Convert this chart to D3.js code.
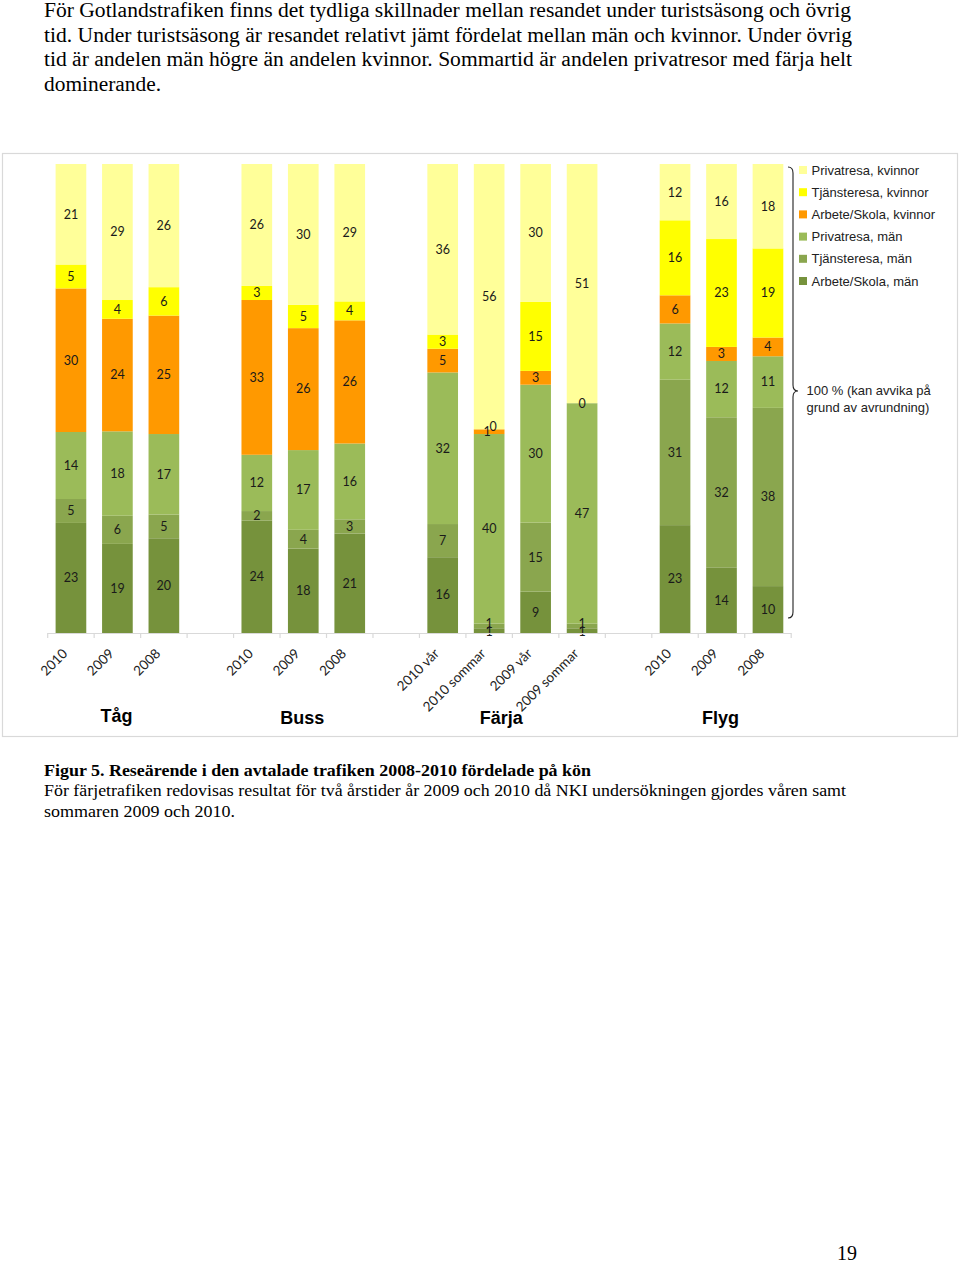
<!DOCTYPE html>
<html><head><meta charset="utf-8">
<script src="https://cdn.jsdelivr.net/npm/d3@7"></script>
<style>
html,body{margin:0;padding:0;background:#fff;}
svg{display:block;}
</style></head>
<body>
<script>
// ---- data ----
const groups = ["Tåg", "Buss", "Färja", "Flyg"];
const periods = [
  ["2010", "2009", "2008"],
  ["2010", "2009", "2008"],
  ["2010 vår", "2010 sommar", "2009 vår", "2009 sommar"],
  ["2010", "2009", "2008"]
];
const seriesNames = ["Arbete/Skola, män", "Tjänsteresa, män", "Privatresa, män",
  "Arbete/Skola, kvinnor", "Tjänsteresa, kvinnor", "Privatresa, kvinnor"];
const arbeteMan   = [23, 19, 20, 24, 18, 21, 16, 1, 9, 1, 23, 14, 10];
const tjanstMan   = [5, 6, 5, 2, 4, 3, 7, 1, 15, 1, 31, 32, 38];
const privatMan   = [14, 18, 17, 12, 17, 16, 32, 40, 30, 47, 12, 12, 11];
const arbeteKv    = [30, 24, 25, 33, 26, 26, 5, 1, 3, 0, 6, 3, 4];
const tjanstKv    = [5, 4, 6, 3, 5, 4, 3, 0, 15, 0, 16, 23, 19];
const privatKv    = [21, 29, 26, 26, 30, 29, 36, 56, 30, 51, 12, 16, 18];
const seriesColors = ["#76923C", "#8AA64E", "#9BBB59", "#FF9900", "#FFFF00", "#FFFF99"];

const introLines = [
  "För Gotlandstrafiken finns det tydliga skillnader mellan resandet under turistsäsong och övrig",
  "tid. Under turistsäsong är resandet relativt jämt fördelat mellan män och kvinnor. Under övrig",
  "tid är andelen män högre än andelen kvinnor. Sommartid är andelen privatresor med färja helt",
  "dominerande."
];
const captionTitle = "Figur 5. Reseärende i den avtalade trafiken 2008-2010 fördelade på kön";
const captionLines = [
  "För färjetrafiken redovisas resultat för två årstider år 2009 och 2010 då NKI undersökningen gjordes våren samt",
  "sommaren 2009 och 2010."
];
const braceNote = ["100 % (kan avvika på", "grund av avrundning)"];
const pageNumber = "19";

// ---- build ----
const W = 960, H = 1263;
const svg = d3.select("body").append("svg").attr("width", W).attr("height", H);

// paragraph text
const introW = [807, 808, 808, 117];
introLines.forEach((t, i) => {
  svg.append("text").attr("x", 44).attr("y", 17 + i * 24.6)
    .attr("font-family", "Liberation Serif, Times New Roman, serif").attr("font-size", 20)
    .attr("fill", "#000")
    .attr("textLength", introW[i]).attr("lengthAdjust", "spacingAndGlyphs").text(t);
});

// chart frame
svg.append("rect").attr("x", 2.5).attr("y", 153.5).attr("width", 955).attr("height", 583)
  .attr("fill", "#fff").attr("stroke", "#d9d9d9").attr("stroke-width", 1.2);

// build bar records
const bars = [];
const slots = [];
let k = 0;
groups.forEach((g, gi) => {
  periods[gi].forEach((p) => {
    const id = g + "|" + p;
    slots.push(id);
    bars.push({ id, group: g, period: p, idx: k });
    k++;
  });
  if (gi < groups.length - 1) slots.push("gap" + gi);
});
const seriesArrays = [arbeteMan, tjanstMan, privatMan, arbeteKv, tjanstKv, privatKv];
bars.forEach(b => {
  b.vals = seriesArrays.map(a => a[b.idx]);
  b.total = d3.sum(b.vals);
});

const x = d3.scaleBand().domain(slots).range([47.7, 791.2]).paddingInner(0.34).paddingOuter(0.17);
const y = d3.scaleLinear().domain([0, 1]).range([633, 164]);

// stacked (normalized)
const segs = [];
bars.forEach(b => {
  let acc = 0;
  b.vals.forEach((v, si) => {
    const y0 = acc / b.total, y1 = (acc + v) / b.total;
    segs.push({ b, si, v, y0, y1 });
    acc += v;
  });
});

const gBars = svg.append("g");
gBars.selectAll("rect").data(segs).join("rect")
  .attr("x", d => x(d.b.id))
  .attr("width", x.bandwidth())
  .attr("y", d => y(d.y1))
  .attr("height", d => y(d.y0) - y(d.y1))
  .attr("fill", d => seriesColors[d.si]);

// labels: tiny segments get a small nudge like the overlapping Excel labels
gBars.selectAll("text").data(segs).join("text")
  .attr("x", d => {
    const cx = x(d.b.id) + x.bandwidth() / 2;
    if (d.b.period.includes("sommar") && d.si === 4 && d.v === 0 && d.b.vals[3] > 0) return cx + 4;
    if (d.b.period.includes("sommar") && d.si === 3 && d.v > 0) return cx - 2;
    return cx;
  })
  .attr("y", d => {
    let yy = y((d.y0 + d.y1) / 2);
    if (d.b.period.includes("sommar") && d.si === 0) yy += 1;
    if (d.b.period.includes("sommar") && d.si === 1) yy -= 2;
    if (d.b.period.includes("sommar") && d.si === 4 && d.v === 0 && d.b.vals[3] > 0) yy -= 3;
    return yy;
  })
  .attr("dy", "0.35em")
  .attr("text-anchor", "middle")
  .attr("font-family", "Lato, Open Sans, sans-serif").attr("font-size", 12.5)
  .attr("fill", "#1a1a1a")
  .text(d => d.v)
  .filter(d => d.b.period === "2009 sommar" && d.si === 4).remove();

// axis line & ticks
const axisG = svg.append("g");
const step = x.step();
const x0 = x.range()[0];
axisG.append("line").attr("x1", x0).attr("x2", x.range()[1]).attr("y1", 633.5).attr("y2", 633.5)
  .attr("stroke", "#d9d9d9").attr("stroke-width", 1.2);
const tickPos = d3.range(slots.length + 1).map(i => x0 + i * step);
axisG.selectAll("line.tick").data(tickPos).join("line").attr("class", "tick")
  .attr("x1", d => d).attr("x2", d => d).attr("y1", 633).attr("y2", 638)
  .attr("stroke", "#d9d9d9").attr("stroke-width", 1.2);

// category labels
axisG.selectAll("text.cat").data(bars).join("text").attr("class", "cat")
  .attr("transform", d => `translate(${x(d.id) + x.bandwidth() / 2 - 6},${651}) rotate(-45)`)
  .attr("text-anchor", "end").attr("dy", "0.35em")
  .attr("font-family", "Lato, Open Sans, sans-serif").attr("font-size", 13.5)
  .attr("fill", "#222")
  .text(d => d.period);

// group labels
groups.forEach((g, gi) => {
  const gb = bars.filter(b => b.group === g);
  const cx = d3.mean(gb, b => x(b.id) + x.bandwidth() / 2);
  svg.append("text").attr("x", cx - (gi === 2 ? 11 : 1)).attr("y", gi === 0 ? 722 : 724)
    .attr("text-anchor", "middle")
    .attr("font-family", "Liberation Sans, Arial, sans-serif").attr("font-weight", "bold")
    .attr("font-size", 18).attr("fill", "#000").text(g);
});

// legend (top to bottom: reversed series)
const legendOrder = d3.range(seriesNames.length).reverse();
const lg = svg.append("g");
legendOrder.forEach((si, i) => {
  const cy = 170 + i * 22.2;
  lg.append("rect").attr("x", 799).attr("y", cy - 4).attr("width", 8).attr("height", 8)
    .attr("fill", seriesColors[si]);
  lg.append("text").attr("x", 811.5).attr("y", cy).attr("dy", "0.35em")
    .attr("font-family", "Liberation Sans, Arial, sans-serif").attr("font-size", 13)
    .attr("fill", "#222").text(seriesNames[si]);
});

// brace
const bx = 793, bTop = 167, bBot = 618, bMid = 391;
const bracePath = `M ${bx - 5} ${bTop} Q ${bx} ${bTop} ${bx} ${bTop + 6} L ${bx} ${bMid - 6} Q ${bx} ${bMid} ${bx + 5} ${bMid}` +
  ` Q ${bx} ${bMid} ${bx} ${bMid + 6} L ${bx} ${bBot - 6} Q ${bx} ${bBot} ${bx - 5} ${bBot}`;
svg.append("path").attr("d", bracePath).attr("fill", "none").attr("stroke", "#222").attr("stroke-width", 1.1);
braceNote.forEach((t, i) => {
  svg.append("text").attr("x", 806.5).attr("y", 395 + i * 16.5)
    .attr("font-family", "Liberation Sans, Arial, sans-serif").attr("font-size", 13)
    .attr("fill", "#222").text(t);
});

// caption
svg.append("text").attr("x", 44).attr("y", 776)
  .attr("font-family", "Liberation Serif, Times New Roman, serif").attr("font-size", 17.5)
  .attr("font-weight", "bold").attr("fill", "#000")
  .attr("textLength", 547).attr("lengthAdjust", "spacingAndGlyphs").text(captionTitle);
const capW = [802, 191];
captionLines.forEach((t, i) => {
  svg.append("text").attr("x", 44).attr("y", 796 + i * 20.5)
    .attr("font-family", "Liberation Serif, Times New Roman, serif").attr("font-size", 17.5)
    .attr("fill", "#000")
    .attr("textLength", capW[i]).attr("lengthAdjust", "spacingAndGlyphs").text(t);
});

// page number
svg.append("text").attr("x", 837).attr("y", 1260)
  .attr("font-family", "Liberation Serif, Times New Roman, serif").attr("font-size", 20)
  .attr("fill", "#000").text(pageNumber);
</script>
</body></html>
